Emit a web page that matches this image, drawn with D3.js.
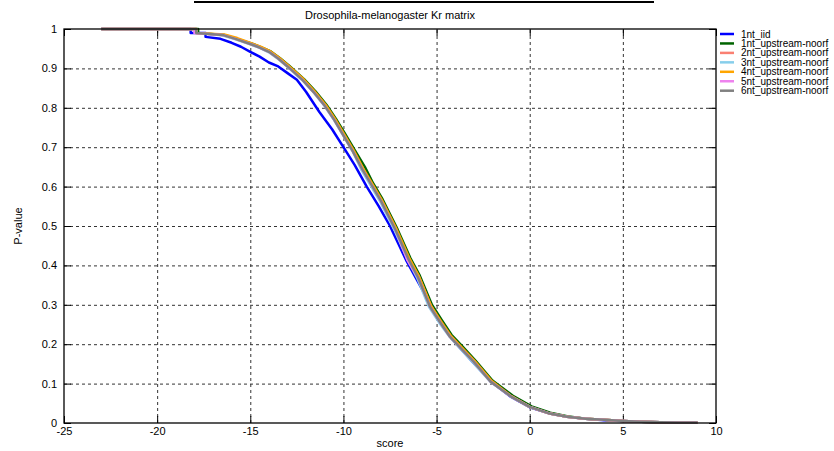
<!DOCTYPE html>
<html>
<head>
<meta charset="utf-8">
<script src="https://cdn.jsdelivr.net/npm/d3@7"></script>
<style>
	body { margin: 0; background: #fff; }
	svg { font-family: 'Liberation Sans', Arial, sans-serif; }
	.vis__axis text { font-size: 11px; fill: #000; }
	.vis__axis line { stroke: #000; }
	.vis__grid line { stroke: #333; stroke-dasharray: 3,3; }
	.legend text { font-size: 10px; }
</style>
</head>
<body>
<svg id="chart" width="834" height="451"></svg>
<script>
var title = 'Drosophila-melanogaster Kr matrix';
var xTicks = [-25, -20, -15, -10, -5, 0, 5, 10];
var yTicks = [0, 0.1, 0.2, 0.3, 0.4, 0.5, 0.6, 0.7, 0.8, 0.9, 1];

var seriesNames = ['1nt_iid', '1nt_upstream-noorf', '2nt_upstream-noorf', '3nt_upstream-noorf',
	'4nt_upstream-noorf', '5nt_upstream-noorf', '6nt_upstream-noorf'];
var seriesColors = ['#0000ff', '#006400', '#fa8072', '#87ceeb', '#ffa500', '#ee82ee', '#808080'];

// [score, P-value]
var iid1 = [[-23, 1], [-18.2, 1], [-18.2, 0.99], [-17.4, 0.99], [-17.4, 0.98], [-16.6, 0.975], [-16, 0.965],
	[-15.5, 0.955], [-15, 0.942], [-14.5, 0.93], [-14, 0.915], [-13.5, 0.905], [-13, 0.888], [-12.5, 0.871],
	[-12, 0.84], [-11.3, 0.79], [-10.6, 0.745], [-10, 0.7], [-9.4, 0.655], [-8.75, 0.6], [-8.1, 0.55],
	[-7.5, 0.5], [-6.6, 0.41], [-5.7, 0.333], [-5, 0.275], [-4.2, 0.215], [-3, 0.152], [-2, 0.102],
	[-1, 0.066], [0, 0.04], [1, 0.025], [2, 0.016], [3, 0.011], [4, 0.007], [5, 0.005], [6, 0.003],
	[7, 0.002], [8, 0.0015], [9, 0.001]];
var upstream1 = [[-23, 1], [-17.8, 1], [-17.8, 0.99], [-16.4, 0.985], [-15.7, 0.975], [-14.9, 0.963],
	[-14.4, 0.953], [-13.9, 0.943], [-13.4, 0.926], [-12.9, 0.906], [-12.1, 0.872], [-11.5, 0.842],
	[-10.9, 0.807], [-10.4, 0.772], [-9.9, 0.733], [-9.4, 0.693], [-8.85, 0.65], [-8.4, 0.608],
	[-7.9, 0.568], [-7.1, 0.492], [-6.4, 0.418], [-5.9, 0.374], [-5.25, 0.3], [-4.7, 0.26], [-4.2, 0.224],
	[-3.6, 0.194], [-2.9, 0.158], [-2, 0.108], [-0.9, 0.069], [0.1, 0.042], [1.1, 0.026], [2, 0.017],
	[3, 0.011], [4, 0.008], [5, 0.005], [6, 0.003], [7, 0.002], [8, 0.0015], [9, 0.001]];
var upstream2 = [[-23, 1], [-17.9, 1], [-17.9, 0.99], [-16.5, 0.985], [-15.8, 0.976], [-15, 0.963],
	[-14.5, 0.954], [-14, 0.943], [-13.5, 0.926], [-13, 0.906], [-12.2, 0.872], [-11.6, 0.841],
	[-11, 0.806], [-10.5, 0.771], [-10, 0.731], [-9.5, 0.691], [-9, 0.646], [-8.5, 0.606], [-8, 0.566],
	[-7.2, 0.491], [-6.5, 0.416], [-5.95, 0.372], [-5.3, 0.297], [-4.8, 0.256], [-4.25, 0.221],
	[-3.7, 0.191], [-3, 0.156], [-2.1, 0.106], [-1, 0.068], [0, 0.041], [1, 0.025], [2, 0.016],
	[3, 0.011], [4, 0.008], [5, 0.005], [6, 0.003], [7, 0.002], [8, 0.0015], [9, 0.001]];
var upstream3 = [[-23, 1], [-17.9, 1], [-17.9, 0.99], [-16.5, 0.984], [-15.8, 0.974], [-15, 0.961],
	[-14.5, 0.952], [-14, 0.941], [-13.5, 0.924], [-13, 0.904], [-12.2, 0.87], [-11.6, 0.839],
	[-11, 0.804], [-10.5, 0.769], [-10, 0.729], [-9.5, 0.689], [-9.05, 0.644], [-8.55, 0.604],
	[-8.05, 0.564], [-7.25, 0.489], [-6.55, 0.414], [-6.05, 0.369], [-5.4, 0.294], [-4.85, 0.254],
	[-4.3, 0.219], [-3.75, 0.19], [-3.05, 0.154], [-2.1, 0.104], [-1, 0.067], [0, 0.041], [1, 0.025],
	[2, 0.016], [3, 0.011], [4, 0.008], [5, 0.005], [6, 0.003], [7, 0.002], [8, 0.0015], [9, 0.001]];
var upstream4 = [[-23, 1], [-17.9, 1], [-17.9, 0.99], [-16.4, 0.986], [-15.7, 0.977], [-14.95, 0.964],
	[-14.45, 0.955], [-13.95, 0.944], [-13.45, 0.927], [-12.95, 0.907], [-12.15, 0.873], [-11.55, 0.842],
	[-10.95, 0.807], [-10.45, 0.772], [-9.95, 0.732], [-9.45, 0.692], [-8.95, 0.647], [-8.45, 0.607],
	[-7.95, 0.567], [-7.15, 0.492], [-6.45, 0.417], [-5.95, 0.372], [-5.3, 0.297], [-4.75, 0.257],
	[-4.25, 0.222], [-3.65, 0.192], [-2.95, 0.157], [-2.05, 0.107], [-1, 0.068], [0, 0.041], [1, 0.025],
	[2, 0.016], [3, 0.011], [4, 0.008], [5, 0.005], [6, 0.003], [7, 0.002], [8, 0.0015], [9, 0.001]];
var upstream5 = [[-23, 1], [-18, 1], [-18, 0.99], [-16.5, 0.985], [-15.8, 0.975], [-15, 0.962],
	[-14.5, 0.953], [-14, 0.942], [-13.5, 0.925], [-13, 0.905], [-12.2, 0.871], [-11.6, 0.84],
	[-11, 0.805], [-10.5, 0.77], [-10, 0.73], [-9.5, 0.69], [-9, 0.645], [-8.5, 0.605], [-8, 0.565],
	[-7.2, 0.49], [-6.55, 0.412], [-6, 0.37], [-5.35, 0.295], [-4.8, 0.255], [-4.3, 0.22], [-3.7, 0.19],
	[-3, 0.155], [-2.1, 0.105], [-1, 0.067], [0, 0.041], [1, 0.025], [2, 0.016], [3, 0.011], [4, 0.008],
	[5, 0.005], [6, 0.003], [7, 0.002], [8, 0.0015], [9, 0.001]];
var upstream6 = [[-23, 1], [-17.9, 1], [-17.9, 0.99], [-16.5, 0.985], [-15.8, 0.975], [-15, 0.962],
	[-14.5, 0.953], [-14, 0.942], [-13.5, 0.925], [-13, 0.905], [-12.2, 0.871], [-11.6, 0.84],
	[-11, 0.805], [-10.5, 0.77], [-10, 0.73], [-9.5, 0.69], [-9, 0.645], [-8.5, 0.605], [-8, 0.565],
	[-7.2, 0.49], [-6.5, 0.415], [-6, 0.37], [-5.35, 0.295], [-4.8, 0.255], [-4.3, 0.22], [-3.7, 0.19],
	[-3, 0.155], [-2.1, 0.105], [-1, 0.067], [0, 0.041], [1, 0.025], [2, 0.016], [3, 0.011], [4, 0.008],
	[5, 0.005], [6, 0.003], [7, 0.002], [8, 0.0015], [9, 0.001]];

var seriesData = [iid1, upstream1, upstream2, upstream3, upstream4, upstream5, upstream6];

var params = {
	leftMargin: 64,
	topMargin: 29,
	graphWidth: 652,
	graphHeight: 394
};

var svg = d3.select('#chart');

var xScale = d3.scaleLinear().domain([-25, 10]).range([0, params.graphWidth]);
var yScale = d3.scaleLinear().domain([0, 1]).range([params.graphHeight, 0]);

var yFormat = function(d) { return String(+d.toFixed(1)); };
var xFormat = function(d) { return String(d); };

// title with the rule above it
svg.append('line')
	.attr('x1', 194).attr('x2', 654)
	.attr('y1', 2).attr('y2', 2)
	.attr('stroke', '#000')
	.attr('stroke-width', 2);
svg.append('text')
	.attr('x', params.leftMargin + params.graphWidth / 2)
	.attr('y', 19)
	.attr('text-anchor', 'middle')
	.style('font-size', '11px')
	.text(title);

var plot = svg.append('g')
	.attr('transform', 'translate(' + params.leftMargin + ',' + params.topMargin + ')');

// dashed grid
plot.append('g')
	.classed('vis__grid', true)
	.call(d3.axisLeft(yScale).tickValues(yTicks.slice(1, -1)).tickSize(-params.graphWidth).tickFormat(''))
	.call(function(g) { g.select('.domain').remove(); });
plot.append('g')
	.classed('vis__grid', true)
	.attr('transform', 'translate(0,' + params.graphHeight + ')')
	.call(d3.axisBottom(xScale).tickValues(xTicks.slice(1, -1)).tickSize(-params.graphHeight).tickFormat(''))
	.call(function(g) { g.select('.domain').remove(); });

// inward ticks on all four sides
function drawAxes() {
	plot.append('g').classed('vis__axis', true)
		.call(d3.axisLeft(yScale).tickValues(yTicks).tickSize(-7).tickPadding(7).tickFormat(yFormat));
	plot.append('g').classed('vis__axis', true)
		.attr('transform', 'translate(' + params.graphWidth + ',0)')
		.call(d3.axisRight(yScale).tickValues(yTicks).tickSize(-7).tickFormat(''));
	plot.append('g').classed('vis__axis', true)
		.attr('transform', 'translate(0,' + params.graphHeight + ')')
		.call(d3.axisBottom(xScale).tickValues(xTicks).tickSize(-7).tickPadding(4).tickFormat(xFormat));
	plot.append('g').classed('vis__axis', true)
		.call(d3.axisTop(xScale).tickValues(xTicks).tickSize(-7).tickFormat(''));
	plot.selectAll('.vis__axis .domain').remove();
}
drawAxes();

svg.append('text')
	.attr('transform', 'translate(22,' + (params.topMargin + params.graphHeight / 2) + ') rotate(-90)')
	.attr('text-anchor', 'middle')
	.style('font-size', '11px')
	.text('P-value');
svg.append('text')
	.attr('x', params.leftMargin + params.graphWidth / 2)
	.attr('y', 447)
	.attr('text-anchor', 'middle')
	.style('font-size', '11px')
	.text('score');

var line = d3.line()
	.x(function(d) { return xScale(d[0]); })
	.y(function(d) { return yScale(d[1]); });

plot.selectAll('.series').data(seriesData).enter().append('path')
	.classed('series', true)
	.attr('d', line)
	.attr('fill', 'none')
	.attr('stroke', function(d, i) { return seriesColors[i]; })
	.attr('stroke-width', 2.5)
	.attr('stroke-linejoin', 'round');

// frame
plot.append('rect')
	.attr('width', params.graphWidth)
	.attr('height', params.graphHeight)
	.attr('fill', 'none')
	.attr('stroke', '#000')
	.attr('stroke-width', 1.3);

// legend
var legend = svg.append('g').classed('legend', true);
var rows = legend.selectAll('g').data(seriesNames).enter().append('g')
	.attr('transform', function(d, i) { return 'translate(720,' + (34 + i * 9.45) + ')'; });
rows.append('line')
	.attr('x1', 0).attr('x2', 14)
	.attr('stroke', function(d, i) { return seriesColors[i]; })
	.attr('stroke-width', 2.5);
rows.append('text')
	.attr('x', 21)
	.attr('dy', '0.35em')
	.text(function(d) { return d; });
</script>
</body>
</html>
